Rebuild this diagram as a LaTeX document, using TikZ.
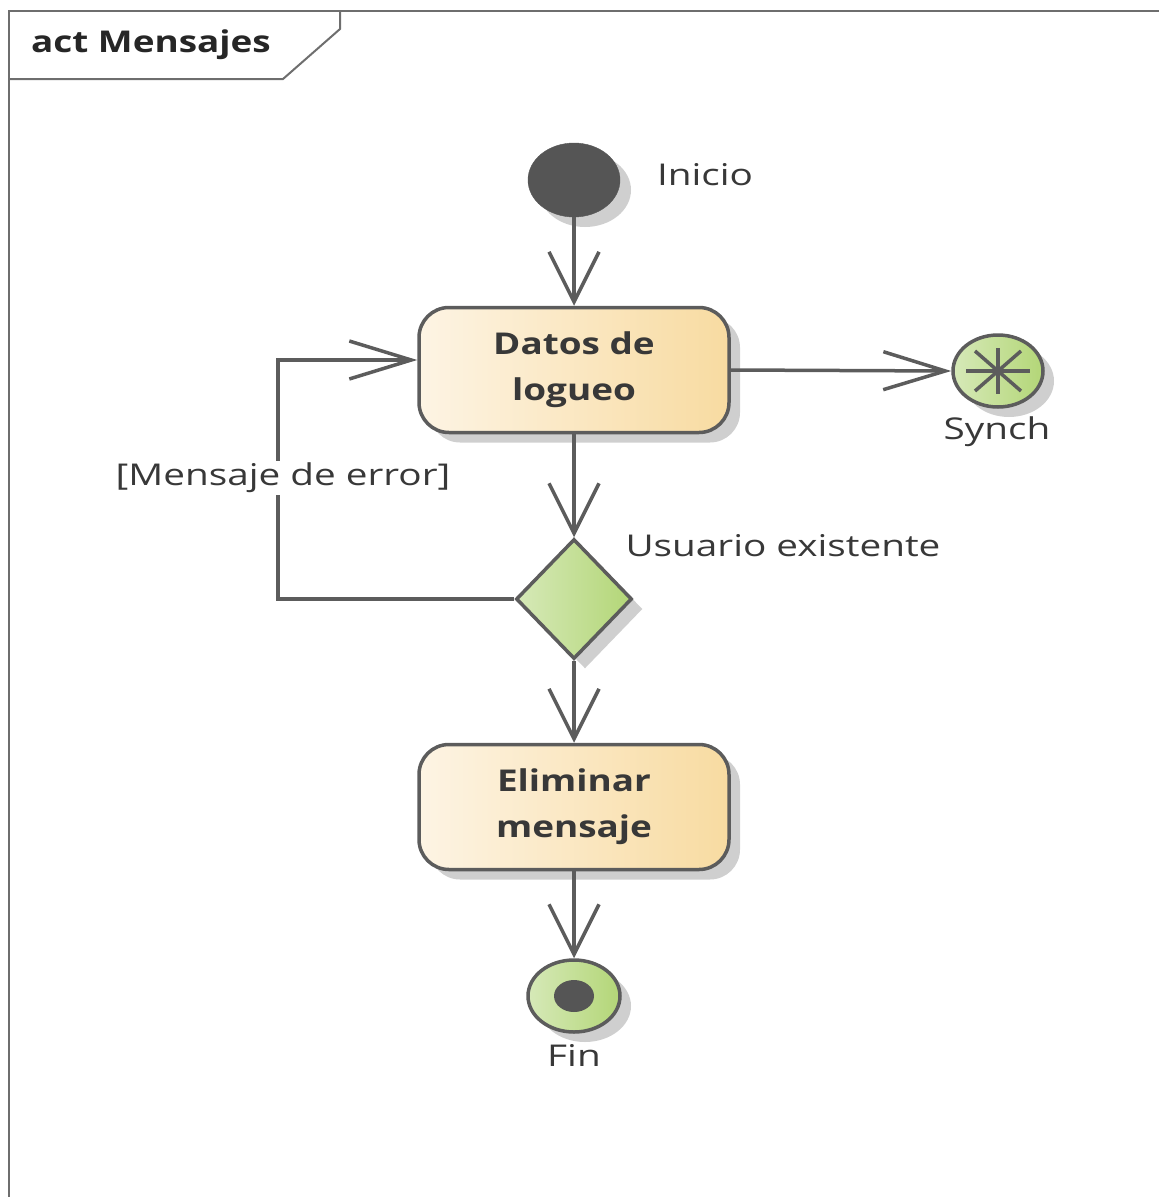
\documentclass[tikz,border=0pt]{standalone}
\usepackage{fontspec}
\setmainfont[FakeStretch=1.29,BoldFeatures={FakeStretch=1.23}]{Open Sans}
\usepackage{xcolor}
\definecolor{ea_line}{HTML}{5c5c5c}
\definecolor{ea_text}{HTML}{383838}
\definecolor{ea_dark}{HTML}{555555}
\definecolor{ea_frame}{HTML}{6e6e6e}
\definecolor{ea_shadow}{HTML}{cfcfcf}
\definecolor{ea_cream_l}{HTML}{fdf4e4}
\definecolor{ea_cream_r}{HTML}{f8dba1}
\definecolor{ea_green_l}{HTML}{d6e9b8}
\definecolor{ea_green_r}{HTML}{b3d677}
\usetikzlibrary{shapes.geometric,positioning,calc,arrows.meta,shadows}
\tikzset{SHADOW/.style={drop shadow={shadow xshift=11pt,shadow yshift=-10pt,fill=ea_shadow,opacity=1}}}
\tikzset{ACTIVITY/.style={rectangle,rounded corners=30pt,draw=ea_line,line width=3.5pt,minimum width=310pt,minimum height=125pt,align=center,text=ea_text,font=\fontsize{30}{46}\selectfont\bfseries,left color=ea_cream_l,right color=ea_cream_r,SHADOW}}
\tikzset{GREEN/.style={draw=ea_line,line width=3.5pt,left color=ea_green_l,right color=ea_green_r,SHADOW}}
\tikzset{LABEL/.style={text=ea_text,font=\fontsize{30}{40}\selectfont,inner sep=2pt}}
\tikzset{ARROW/.style={ea_line,line width=3.5pt,-{Straight Barb[length=50pt,width=50pt,line width=3.5pt]}}}
\tikzset{ARROW_H/.style={ea_line,line width=3.5pt,-{Straight Barb[length=62pt,width=38pt,line width=3.5pt]}}}

\begin{document}
\begin{tikzpicture}[x=1pt,y=-1pt]

\useasboundingbox (0,0) rectangle (1159,1197);

% frame and name tab
\draw[ea_frame,line width=2pt] (9,1197) -- (9,11) -- (1159,11);
\draw[ea_frame,line width=2pt] (340,11) -- (340,29) -- (283,79) -- (9,79);
\node[font=\fontsize{30}{40}\selectfont\bfseries,text=black!85] (n_title) at (151,45) {act Mensajes};

% nodes
\node[ellipse,fill=ea_dark,draw=ea_dark,minimum width=92pt,minimum height=74pt,SHADOW] (n_inicio) at (574,180) {};
\node[LABEL] (l_inicio) at (705,175) {Inicio};

\node[ACTIVITY] (n_datos) at (574,370) {Datos de\\logueo};

\node[ellipse,GREEN,minimum width=90pt,minimum height=72pt] (n_synch) at (998,371) {};
\draw[ea_line,line width=3.5pt] ($(n_synch.center)+(-32,0)$) -- ($(n_synch.center)+(32,0)$);
\draw[ea_line,line width=3.5pt] ($(n_synch.center)+(0,-23)$) -- ($(n_synch.center)+(0,23)$);
\draw[ea_line,line width=3.5pt] ($(n_synch.center)+(-23,-20)$) -- ($(n_synch.center)+(23,20)$);
\draw[ea_line,line width=3.5pt] ($(n_synch.center)+(-23,20)$) -- ($(n_synch.center)+(23,-20)$);
\node[LABEL] (l_synch) at (997,432) {Synch};

\node[diamond,GREEN,minimum width=116pt,minimum height=120pt,inner sep=0pt] (n_decision) at (574,599) {};
\node[LABEL] (l_decision) at (783,546) {Usuario existente};

\node[ACTIVITY] (n_eliminar) at (574,807) {Eliminar\\mensaje};

\node[ellipse,GREEN,minimum width=92pt,minimum height=72pt] (n_fin) at (574,996) {};
\node[ellipse,fill=ea_dark,minimum width=40pt,minimum height=32pt,inner sep=0pt] (n_fin_dot) at (n_fin.center) {};
\node[LABEL] (l_fin) at (574,1055) {Fin};

% flows
\draw[ARROW] (n_inicio) -- (n_datos);
\draw[ARROW_H] (n_datos.east) -- (n_synch.west);
\draw[ARROW] (n_datos) -- (n_decision);
\draw[ARROW] (n_decision) -- (n_eliminar);
\draw[ARROW] (n_eliminar) -- (n_fin);

\coordinate (c_loop) at (278,360);
\draw[ARROW_H] (n_decision.west) -| (c_loop) -- (c_loop-|n_datos.west);
\node[LABEL,fill=white] (l_error) at (283,478) {[Mensaje de error]};

\end{tikzpicture}
\end{document}
